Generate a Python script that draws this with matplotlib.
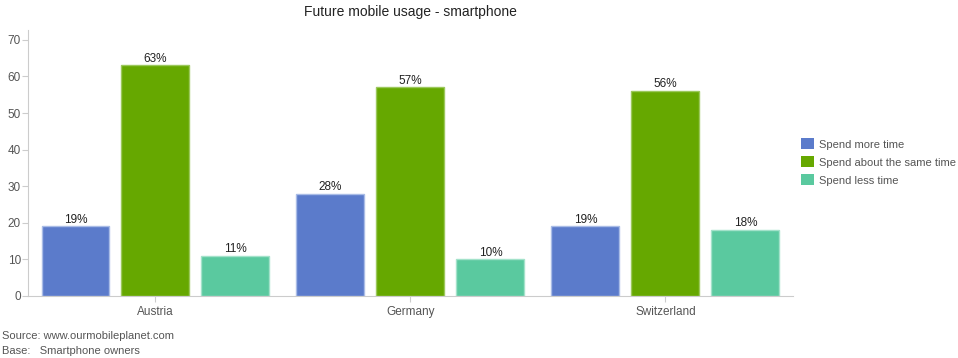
import matplotlib.pyplot as plt
import numpy as np

plt.rcParams['font.family'] = ['Liberation Sans', 'DejaVu Sans']

countries = ['Austria', 'Germany', 'Switzerland']
series = ['Spend more time', 'Spend about the same time', 'Spend less time']
more_time = [19, 28, 19]
same_time = [63, 57, 56]
less_time = [11, 10, 18]
colors = ['#5b7bcb', '#66a800', '#5ac99f']
edges = ['#a9bce6', '#9cc85c', '#a3e2ca']

fig = plt.figure(figsize=(9.58, 3.58), dpi=100)
ax = fig.add_axes([28 / 958, 1 - 296 / 358, 765 / 958, 266 / 358])

x = np.arange(len(countries))
w = 68 / 255
step = 80 / 255
for i, (vals, c, e, name) in enumerate(zip([more_time, same_time, less_time], colors, edges, series)):
    bars = ax.bar(x + (i - 1) * step, vals, width=w, color=c, edgecolor=e, linewidth=1, label=name)
    for b, v in zip(bars, vals):
        ax.text(b.get_x() + b.get_width() / 2, v + 0.2, f'{v}%', ha='center', va='bottom',
                fontsize=8.5, color='#222222')

ax.set_xlim(-0.5, 2.5)
ax.set_ylim(0, 72.7)
ax.set_yticks(range(0, 71, 10))
ax.set_xticks(x)
ax.set_xticklabels(countries)
for s in ['top', 'right']:
    ax.spines[s].set_visible(False)
for s in ['left', 'bottom']:
    ax.spines[s].set_color('#cccccc')
ax.tick_params(colors='#cccccc', labelcolor='#555555', labelsize=8.5, length=4, width=0.8)
ax.tick_params(axis='y', pad=1)

fig.text(410 / 958, 1 - 12 / 358, 'Future mobile usage - smartphone', ha='center', va='center',
         fontsize=10, color='#222222')

handles, labels = ax.get_legend_handles_labels()
leg = fig.legend(handles, labels, loc='center left', bbox_to_anchor=(801 / 958, 1 - 162 / 358),
                 frameon=False, fontsize=8, labelcolor='#555555', handlelength=1.15, handleheight=1.15,
                 handletextpad=0.45, labelspacing=0.6, borderpad=0, borderaxespad=0)
for h in leg.legend_handles:
    h.set_edgecolor('none')

fig.text(2 / 958, 1 - 336 / 358, 'Source: www.ourmobileplanet.com', ha='left', va='center',
         fontsize=8, color='#555555')
fig.text(2 / 958, 1 - 351 / 358, 'Base:   Smartphone owners', ha='left', va='center',
         fontsize=8, color='#555555')

fig.savefig('out.png', dpi=100)
